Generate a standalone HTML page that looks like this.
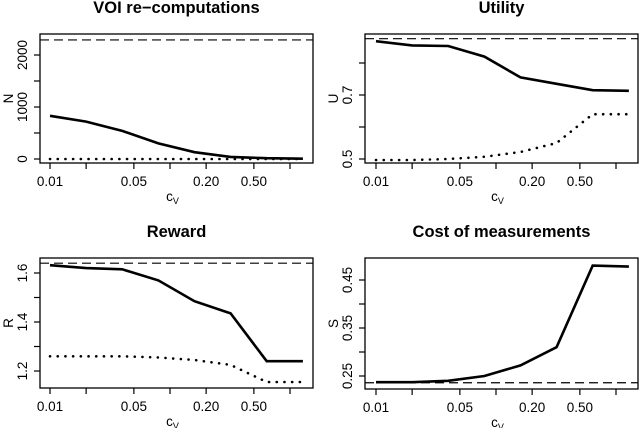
<!DOCTYPE html>
<html><head><meta charset="utf-8"><style>
body{margin:0;background:#fff;}
svg{display:block;font-family:"Liberation Sans",Arial,sans-serif;}
</style></head><body>
<svg id="c" width="640" height="428" xmlns="http://www.w3.org/2000/svg"></svg>
<script>
const xValues=[0.01,0.02,0.04,0.08,0.16,0.32,0.64,1.28];
const xTicks=[0.01,0.02,0.05,0.1,0.2,0.5,1];
const xTickLabels=["0.01","","0.05","","0.20","0.50",""];
const nSolid=[830,720,540,300,130,40,15,5];
const nDotted=[0,0,0,0,0,0,0,0];
const nDashed=2290;
const uSolid=[0.868,0.855,0.853,0.82,0.755,0.735,0.715,0.713];
const uDotted=[0.497,0.497,0.5,0.507,0.522,0.55,0.64,0.64];
const uDashed=0.876;
const rSolid=[1.632,1.62,1.615,1.57,1.485,1.435,1.24,1.24];
const rDotted=[1.26,1.26,1.26,1.255,1.245,1.225,1.155,1.155];
const rDashed=1.64;
const sSolid=[0.237,0.237,0.24,0.25,0.272,0.31,0.48,0.478];
const sDashed=0.236;
const nTicks=[0,500,1000,1500,2000];const nTickLabels=["0","","1000","","2000"];
const uTicks=[0.5,0.6,0.7,0.8];const uTickLabels=["0.5","","0.7",""];
const rTicks=[1.2,1.3,1.4,1.5,1.6];const rTickLabels=["1.2","","1.4","","1.6"];
const sTicks=[0.25,0.3,0.35,0.4,0.45];const sTickLabels=["0.25","","0.35","","0.45"];

const svg=document.getElementById('c');
const NS="http://www.w3.org/2000/svg";
function el(t,a,p){const e=document.createElementNS(NS,t);for(const k in a)e.setAttribute(k,a[k]);(p||svg).appendChild(e);return e;}

function panel(o){
  const g=el('g',{});
  
  
  const X=v=>o.x0+Math.log10(v/0.01)*120;
  const Y=v=>o.yA+(v-o.vA)*(o.yB-o.yA)/(o.vB-o.vA);
  const t=el('text',{x:(o.L+o.R)/2,y:o.T-21,'text-anchor':'middle','font-size':16.5,'font-weight':'bold'},g);t.textContent=o.title;
  
  const box=el('rect',{x:o.L,y:o.T,width:o.R-o.L,height:o.B-o.T,fill:'none',stroke:'#000','stroke-width':1.3},g);
  
  xTicks.forEach((v,i)=>{const x=X(v);
    const l=el('line',{x1:x,x2:x,y1:o.B,y2:o.B+6,stroke:'#000','stroke-width':1.2},g);
    
    if(xTickLabels[i]){const tx=el('text',{x:x,y:o.B+23,'text-anchor':'middle','font-size':13.5},g);tx.textContent=xTickLabels[i];
      }
  });
  const xl=el('text',{x:(o.L+o.R)/2-4,y:o.B+38,'text-anchor':'middle','font-size':13.5},g);
  
  xl.innerHTML='c<tspan font-size="9" dy="3">V</tspan>';
  o.ticks.forEach((v,i)=>{const y=Y(v);
    const l=el('line',{x1:o.L-6,x2:o.L,y1:y,y2:y,stroke:'#000','stroke-width':1.2},g);
    
    if(o.tickLabels[i]){const tx=el('text',{x:o.L-13,y:y,'text-anchor':'middle','font-size':13.5,transform:`rotate(-90 ${o.L-13} ${y})`},g);tx.textContent=o.tickLabels[i];
      }
  });
  const yl=el('text',{x:o.L-27,y:(o.T+o.B)/2,'text-anchor':'middle','font-size':13.5,transform:`rotate(-90 ${o.L-27} ${(o.T+o.B)/2})`},g);yl.textContent=o.ylab;
  
  const dl=el('line',{x1:o.L,x2:o.R,y1:Y(o.dashed),y2:Y(o.dashed),stroke:'#000','stroke-width':1.2,'stroke-dasharray':'9,5'},g);
  
  const pts=a=>a.map((v,i)=>X(xValues[i]).toFixed(1)+','+Y(v).toFixed(1)).join(' ');
  if(o.dotted){const p=el('polyline',{points:pts(o.dotted),fill:'none',stroke:'#000','stroke-width':2.6,'stroke-dasharray':'0.1,7.6','stroke-linecap':'round'},g);
    }
  const s=el('polyline',{points:pts(o.solid),fill:'none',stroke:'#000','stroke-width':2.6},g);
  
}
panel({name:'voi-panel',title:'VOI re\u2212computations',ylab:'N',L:40,R:313,T:34,B:163,x0:50,yA:159,vA:0,yB:107,vB:1000,ticks:nTicks,tickLabels:nTickLabels,solid:nSolid,dotted:nDotted,dashed:nDashed});
panel({name:'utility-panel',title:'Utility',ylab:'U',L:365,R:638,T:34,B:163,x0:376,yA:159,vA:0.5,yB:95,vB:0.7,ticks:uTicks,tickLabels:uTickLabels,solid:uSolid,dotted:uDotted,dashed:uDashed});
panel({name:'reward-panel',title:'Reward',ylab:'R',L:40,R:313,T:258,B:388,x0:50,yA:371,vA:1.2,yB:273,vB:1.6,ticks:rTicks,tickLabels:rTickLabels,solid:rSolid,dotted:rDotted,dashed:rDashed});
panel({name:'cost-panel',title:'Cost of measurements',ylab:'S',L:365,R:638,T:258,B:389,x0:376,yA:376,vA:0.25,yB:280,vB:0.45,ticks:sTicks,tickLabels:sTickLabels,solid:sSolid,dotted:null,dashed:sDashed});
</script>
</body></html>
